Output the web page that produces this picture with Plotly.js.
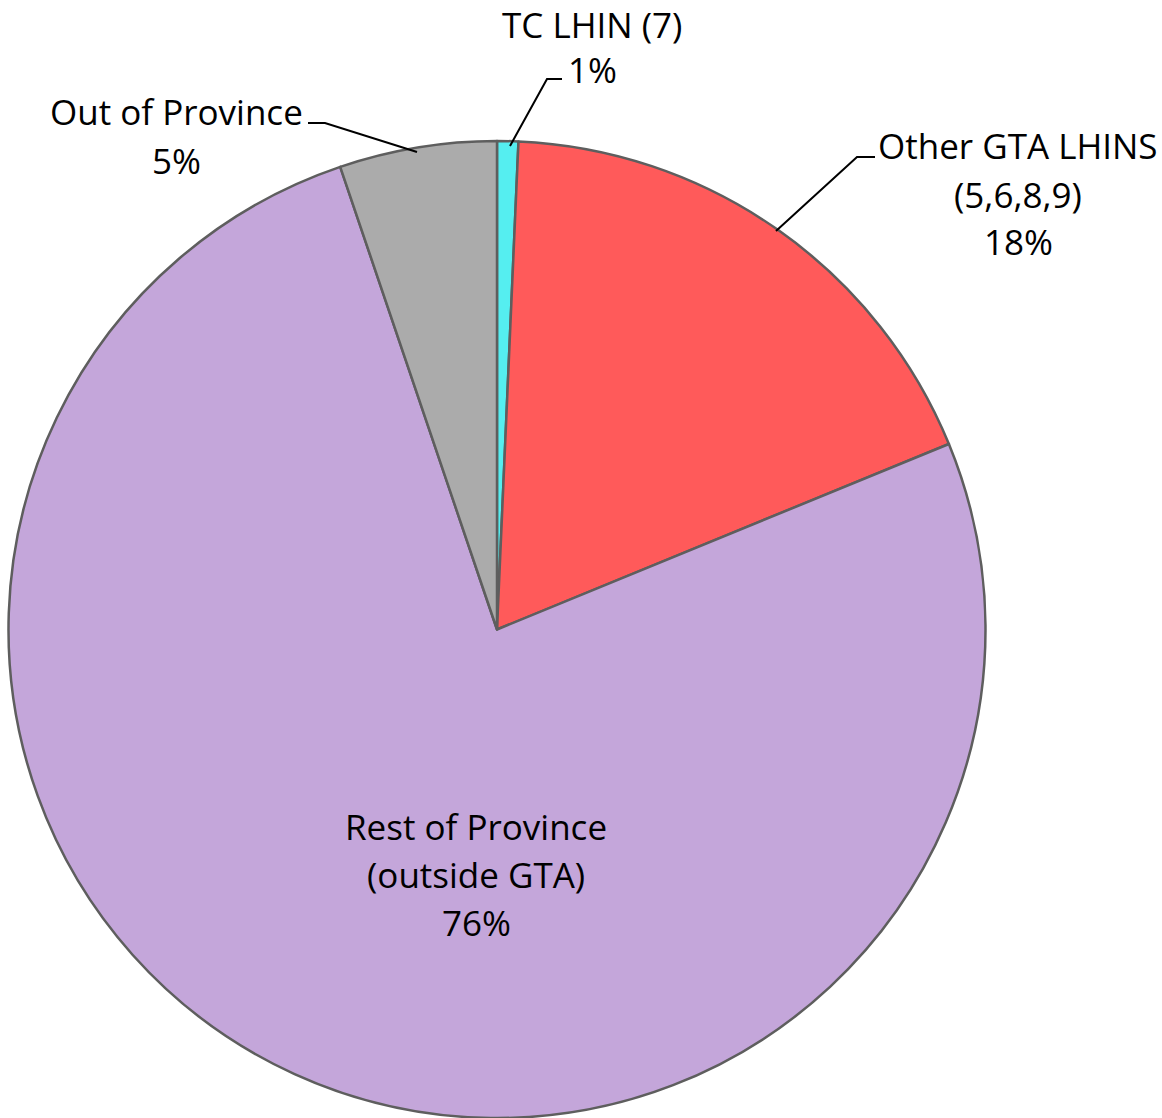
<!DOCTYPE html>
<html>
<head>
<meta charset="utf-8">
<script src="https://cdn.plot.ly/plotly-3.0.1.min.js"></script>
<style>html,body{margin:0;padding:0;background:#fff;}#chart{width:1162px;height:1118px;}</style>
</head>
<body>
<div id="chart"></div>
<script>
// Data
const categories = ['TC LHIN (7)', 'Other GTA LHINS<br>(5,6,8,9)', 'Rest of Province<br>(outside GTA)', 'Out of Province'];
const shares = [0.7, 18.1, 76.0, 5.2];
const sliceColors = ['#55EEF0', '#FF5A5A', '#C4A6DA', '#ABABAB'];

const W = 1162, H = 1118;
const px = x => x / W;
const py = y => 1 - y / H;

// Label placement (pixel centre of first line) and line spacing
const labelPos = [
  {x: 592, y: 24},
  {x: 1018, y: 146},
  {x: 476, y: 826},
  {x: 176, y: 112}
];
const lineGaps = [46, 48, 48, 48];

const total = shares.reduce((a, b) => a + b, 0);
const annotations = [];
categories.forEach((cat, i) => {
  const pct = Math.round(shares[i] / total * 100) + '%';
  const lines = cat.split('<br>').concat([pct]);
  lines.forEach((ln, j) => {
    annotations.push({
      xref: 'paper', yref: 'paper',
      x: px(labelPos[i].x), y: py(labelPos[i].y + j * lineGaps[i]),
      xanchor: 'center', yanchor: 'middle',
      text: ln, showarrow: false, borderpad: 0,
      font: {family: '"Open Sans", Lato, sans-serif', size: 35, color: '#000'}
    });
  });
});

// Leader lines (pixel polylines)
const leaders = [
  [[510, 146], [547, 79], [562, 79]],
  [[776, 231], [857, 157], [875, 157]],
  [[417, 152], [325, 123], [308, 123]]
];
const shapes = leaders.map(pts => ({
  type: 'path', xref: 'paper', yref: 'paper',
  path: pts.map((p, k) => (k ? 'L' : 'M') + px(p[0]) + ',' + py(p[1])).join(' '),
  line: {color: '#000', width: 2}
}));

const cx = 497, cy = 630, R = 489;
const data = [{
  type: 'pie',
  labels: categories,
  values: shares,
  sort: false,
  direction: 'clockwise',
  rotation: 0,
  textinfo: 'none',
  hoverinfo: 'label+percent',
  marker: {colors: sliceColors, line: {color: '#5E5E5E', width: 2.5}},
  domain: {x: [px(cx - R), px(cx + R)], y: [Math.max(0, py(cy + R)), py(cy - R)]},
  showlegend: false
}];

const layout = {
  width: W, height: H,
  margin: {l: 0, r: 0, t: 0, b: 0, pad: 0},
  paper_bgcolor: '#fff',
  showlegend: false,
  annotations: annotations,
  shapes: shapes
};

Plotly.newPlot('chart', data, layout, {displayModeBar: false, staticPlot: true});
</script>
</body>
</html>
